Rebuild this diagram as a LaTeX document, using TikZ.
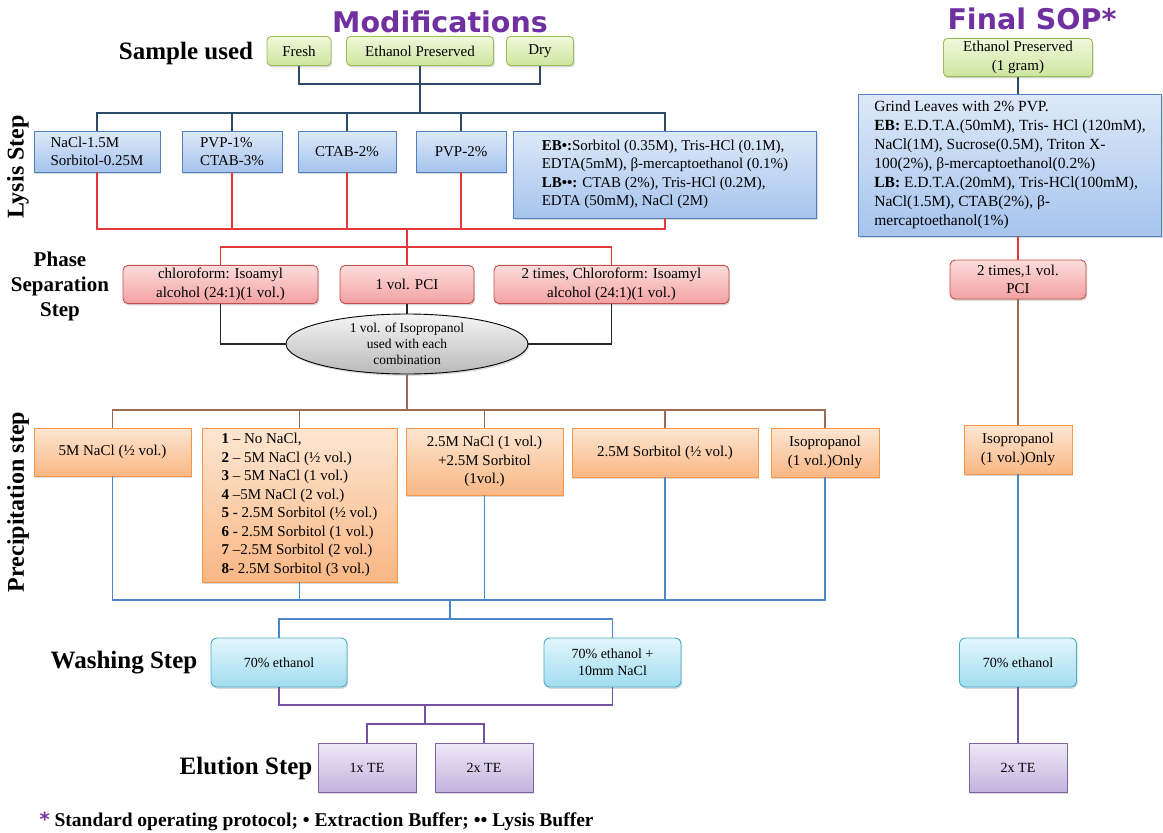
\documentclass[tikz,border=0pt]{standalone}
\usepackage{fontspec}
\setmainfont{Liberation Serif}
\newfontfamily\headfont{DejaVu Sans}
\usetikzlibrary{shapes.geometric,shadows}

\definecolor{headpurple}{HTML}{7030A0}
\definecolor{smpdraw}{HTML}{9BBB59}
\definecolor{smptop}{HTML}{F1F8DC}
\definecolor{smpbot}{HTML}{CDE59F}
\definecolor{lysdraw}{HTML}{4F81BD}
\definecolor{lystop}{HTML}{DDE9F8}
\definecolor{lysbot}{HTML}{A6C4EE}
\definecolor{phsdraw}{HTML}{C0504D}
\definecolor{phstop}{HTML}{FCDCDC}
\definecolor{phsbot}{HTML}{F3A1A1}
\definecolor{precdraw}{HTML}{F79646}
\definecolor{prectop}{HTML}{FDE6D2}
\definecolor{precbot}{HTML}{F9B784}
\definecolor{washdraw}{HTML}{4BACC6}
\definecolor{washtop}{HTML}{E3F6FC}
\definecolor{washbot}{HTML}{A0DDF0}
\definecolor{elutdraw}{HTML}{8064A2}
\definecolor{eluttop}{HTML}{EEE8F6}
\definecolor{elutbot}{HTML}{C4B3DF}
\definecolor{navywire}{HTML}{2E4A6B}
\definecolor{redwire}{HTML}{E3383A}
\definecolor{brownwire}{HTML}{9B6B52}
\definecolor{bluewire}{HTML}{4A86C8}
\definecolor{purplewire}{HTML}{7452A0}

\tikzset{
  boxbase/.style={draw, line width=0.9pt, inner sep=3pt, align=center,
    font=\fontsize{15}{18.5}\selectfont,
    drop shadow={opacity=0.3, shadow xshift=1.2pt, shadow yshift=-1.8pt}},
  samplebox/.style={boxbase, rounded corners=4pt, draw=smpdraw, top color=smptop, bottom color=smpbot},
  lysisbox/.style={boxbase, draw=lysdraw, top color=lystop, bottom color=lysbot},
  phasebox/.style={boxbase, rounded corners=5pt, draw=phsdraw, top color=phstop, bottom color=phsbot},
  precbox/.style={boxbase, draw=precdraw, top color=prectop, bottom color=precbot},
  washbox/.style={boxbase, rounded corners=6pt, draw=washdraw, top color=washtop, bottom color=washbot,
    font=\fontsize{14}{17}\selectfont},
  elutbox/.style={boxbase, draw=elutdraw, top color=eluttop, bottom color=elutbot,
    font=\fontsize{14}{17}\selectfont},
  mixellipse/.style={boxbase, ellipse, inner sep=0pt, draw=black, top color=gray!8, bottom color=gray!55,
    font=\fontsize{13.5}{16}\selectfont},
  steplabel/.style={font=\bfseries\fontsize{25}{28}\selectfont, align=center},
  heading/.style={font=\headfont\bfseries\fontsize{28.5}{31}\selectfont, text=headpurple},
  wire/.style={line width=1.3pt},
}

\begin{document}
\begin{tikzpicture}[x=1pt, y=-1pt]
    \useasboundingbox (0,0) rectangle (1163,833);

    % titles and step labels
    \node[heading] (modtitle) at (440,22) {Modifications};
    \node[heading] (soptitle) at (1032,19) {Final SOP*};
    \node[steplabel] (samplelbl) at (186,53) {Sample used};
    \node[steplabel, rotate=90, font=\bfseries\fontsize{24}{26}\selectfont] (lysislbl) at (18,167) {Lysis Step};
    \node[steplabel, font=\bfseries\fontsize{21}{25}\selectfont] (phaselbl) at (60,286) {Phase\\Separation\\Step};
    \node[steplabel, rotate=90, font=\bfseries\fontsize{24}{26}\selectfont] (preclbl) at (18,502) {Precipitation step};
    \node[steplabel] (washlbl) at (124,663) {Washing Step};
    \node[steplabel] (elutlbl) at (246,768) {Elution Step};

    % sample used
    \node[samplebox, minimum width=64, minimum height=29] (fresh) at (299,51) {Fresh};
    \node[samplebox, minimum width=147, minimum height=29] (ethpres) at (420,51) {Ethanol Preserved};
    \node[samplebox, minimum width=67, minimum height=29] (dry) at (540,51) {Dry};

    % lysis
    \node[lysisbox, minimum width=126, minimum height=41, align=left] (nacl) at (97,151.5) {NaCl-1.5M\\Sorbitol-0.25M};
    \node[lysisbox, minimum width=100, minimum height=41, align=left] (pvpctab) at (232,151.5) {PVP-1\%\\CTAB-3\%};
    \node[lysisbox, minimum width=98, minimum height=41] (ctab) at (347,151.5) {CTAB-2\%};
    \node[lysisbox, minimum width=90, minimum height=41] (pvp) at (461,151.5) {PVP-2\%};
    \node[lysisbox, minimum width=303, minimum height=87, align=left] (buffer) at (665,174.5)
        {\textbf{EB•:}Sorbitol (0.35M), Tris-HCl (0.1M),\\
         EDTA(5mM), β-mercaptoethanol (0.1\%)\\
         \textbf{LB••:} CTAB (2\%), Tris-HCl (0.2M),\\
         EDTA (50mM), NaCl (2M)};

    % phase separation
    \node[phasebox, minimum width=195, minimum height=38] (chloro) at (220.5,284.5) {chloroform: Isoamyl\\alcohol (24:1)(1 vol.)};
    \node[phasebox, minimum width=134, minimum height=38] (pci) at (407,284.5) {1 vol. PCI};
    \node[phasebox, minimum width=235, minimum height=38] (twotimes) at (611.5,284.5) {2 times, Chloroform: Isoamyl\\alcohol (24:1)(1 vol.)};
    \node[mixellipse, minimum width=242, minimum height=60] (isoprop) at (407,344) {1 vol. of Isopropanol\\used with each\\combination};

    % precipitation
    \node[precbox, minimum width=157, minimum height=48] (halfnacl) at (112.5,452) {5M NaCl (½ vol.)};
    \node[precbox, minimum width=195, minimum height=154, align=left] (combos) at (299.5,505)
        {\textbf{1} – No NaCl,\\
         \textbf{2} – 5M NaCl (½ vol.)\\
         \textbf{3} – 5M NaCl (1 vol.)\\
         \textbf{4} –5M NaCl (2 vol.)\\
         \textbf{5 -} 2.5M Sorbitol (½ vol.)\\
         \textbf{6 -} 2.5M Sorbitol (1 vol.)\\
         \textbf{7} –2.5M Sorbitol (2 vol.)\\
         \textbf{8-} 2.5M Sorbitol (3 vol.)};
    \node[precbox, minimum width=157, minimum height=67] (mixnacl) at (484.5,461.5) {2.5M NaCl (1 vol.)\\+2.5M Sorbitol\\(1vol.)};
    \node[precbox, minimum width=186, minimum height=49] (sorbitol) at (665,452.5) {2.5M Sorbitol (½ vol.)};
    \node[precbox, minimum width=108, minimum height=49] (isoonly) at (825,452.5) {Isopropanol\\(1 vol.)Only};

    % washing and elution
    \node[washbox, minimum width=136, minimum height=49] (wash1) at (279,662.5) {70\% ethanol};
    \node[washbox, minimum width=137, minimum height=49] (wash2) at (612.5,662.5) {70\% ethanol +\\10mm NaCl};
    \node[elutbox, minimum width=98, minimum height=49] (te1) at (367,767.5) {1x TE};
    \node[elutbox, minimum width=98, minimum height=49] (te2) at (484,767.5) {2x TE};

    % final SOP column
    \node[samplebox, minimum width=149, minimum height=37] (sopep) at (1018,57.5) {Ethanol Preserved\\(1 gram)};
    \node[lysisbox, minimum width=303, minimum height=142, align=left, font=\fontsize{15.5}{19}\selectfont] (sopbuf) at (1010,165)
        {Grind Leaves with 2\% PVP.\\
         \textbf{EB:} E.D.T.A.(50mM), Tris- HCl (120mM),\\
         NaCl(1M), Sucrose(0.5M), Triton X-\\
         100(2\%), β-mercaptoethanol(0.2\%)\\
         \textbf{LB:} E.D.T.A.(20mM), Tris-HCl(100mM),\\
         NaCl(1.5M), CTAB(2\%), β-\\
         mercaptoethanol(1\%)};
    \node[phasebox, minimum width=136, minimum height=39] (soppci) at (1018,279.5) {2 times,1 vol.\\PCI};
    \node[precbox, minimum width=108, minimum height=49] (sopiso) at (1018,449.5) {Isopropanol\\(1 vol.)Only};
    \node[washbox, minimum width=117, minimum height=49] (sopwash) at (1018,662.5) {70\% ethanol};
    \node[elutbox, minimum width=98, minimum height=49] (sopte) at (1018,767.5) {2x TE};

    % bus points
    \coordinate (smpbus) at (420,84);
    \coordinate (lysbus) at (420,113);
    \coordinate (lysred) at (407,229);
    \coordinate (phasebus) at (407,247);
    \coordinate (precbus) at (407,410);
    \coordinate (bluebus) at (450,600);
    \coordinate (washbus) at (450,619);
    \coordinate (purplebus) at (425,705);
    \coordinate (elutbus) at (425,724);

    % sample -> lysis
    \draw[wire, navywire] (fresh.south) |- (smpbus) -| (dry.south);
    \draw[wire, navywire] (ethpres.south) -- (lysbus);
    \draw[wire, navywire] (nacl.north) |- (lysbus) -| (buffer.north);
    \foreach \b in {pvpctab, ctab, pvp}
        \draw[wire, navywire] (\b.north) -- (\b.north |- lysbus);

    % lysis -> phase separation
    \draw[wire, redwire] (nacl.south) |- (lysred) -| (buffer.south);
    \foreach \b in {pvpctab, ctab, pvp}
        \draw[wire, redwire] (\b.south) -- (\b.south |- lysred);
    \draw[wire, redwire] (lysred) -- (pci.north);
    \draw[wire, redwire] (chloro.north) |- (phasebus) -| (twotimes.north);

    % phase separation -> isopropanol
    \draw[wire, black!85] (chloro.south) |- (isoprop.west);
    \draw[wire, black!85] (twotimes.south) |- (isoprop.east);
    \draw[wire, black!85] (pci.south) -- (isoprop.north);

    % isopropanol -> precipitation
    \draw[wire, brownwire] (isoprop.south) -- (precbus);
    \draw[wire, brownwire] (halfnacl.north) |- (precbus) -| (isoonly.north);
    \foreach \b in {combos, mixnacl, sorbitol}
        \draw[wire, brownwire] (\b.north) -- (\b.north |- precbus);

    % precipitation -> washing
    \draw[wire, bluewire] (halfnacl.south) |- (bluebus) -| (isoonly.south);
    \foreach \b in {combos, mixnacl, sorbitol}
        \draw[wire, bluewire] (\b.south) -- (\b.south |- bluebus);
    \draw[wire, bluewire] (bluebus) -- (washbus);
    \draw[wire, bluewire] (wash1.north) |- (washbus) -| (wash2.north);

    % washing -> elution
    \draw[wire, purplewire] (wash1.south) |- (purplebus) -| (wash2.south);
    \draw[wire, purplewire] (purplebus) -- (elutbus);
    \draw[wire, purplewire] (te1.north) |- (elutbus) -| (te2.north);

    % final SOP column
    \draw[wire, navywire] (sopep.south) -- (sopep.south |- sopbuf.north);
    \draw[wire, redwire] (sopbuf.south -| soppci) -- (soppci.north);
    \draw[wire, brownwire] (soppci.south) -- (sopiso.north);
    \draw[wire, bluewire] (sopiso.south) -- (sopwash.north);
    \draw[wire, purplewire] (sopwash.south) -- (sopte.north);

    % footnote
    \node[anchor=west, font=\bfseries\fontsize{19.5}{22}\selectfont] (footnote) at (36,821)
        {\textcolor{headpurple}{\headfont *} Standard operating protocol; • Extraction Buffer; •• Lysis Buffer};
\end{tikzpicture}
\end{document}
